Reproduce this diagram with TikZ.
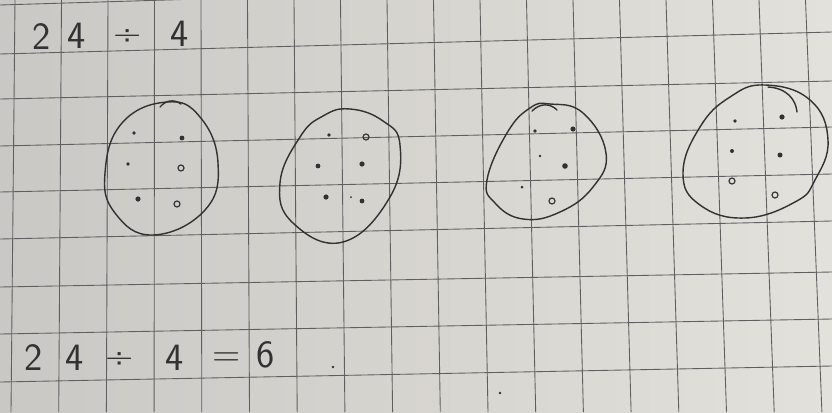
\documentclass[tikz,border=0pt]{standalone}
\usepackage{fontspec}
\usepackage{tikz}
\definecolor{cPaperL}{RGB}{202,200,196}
\definecolor{cPaperR}{RGB}{227,225,219}
\definecolor{cGrid}{RGB}{95,95,95}
\definecolor{cPen}{RGB}{50,50,50}

\begin{document}
\begin{tikzpicture}[
  x=0.03cm, y=-0.03cm,
  rule/.style={draw=cGrid, line width=0.75pt},
  pen/.style={draw=cPen, line width=1.2pt, line cap=round, line join=round},
  ring/.style={draw=cPen, line width=1pt},
  digit/.style={text=cPen, font=\sffamily\fontsize{33}{36}\selectfont, inner sep=0pt},
]
  % paper
  \clip (0,0) rectangle (832,412);
  \shade[left color=cPaperL, right color=cPaperR] (0,0) rectangle (832,412);
  % horizontal rules (left end / right end)
  \foreach \yl/\yr in {5/-20, 54/32, 99/81, 146/127, 192/174, 239/221, 287/272, 334/319, 382/366}
    \draw[rule] (0,\yl) -- (832,\yr);
  % vertical rules
  \foreach \i in {0,...,17}
    \draw[rule] ({15+46.5*\i},0) -- ({11+47.7*\i},412);
  % first line
  \node[digit] (t2)   at (42,37)  {2};
  \node[digit] (t4)   at (77,36)  {4};
  \node[digit] (tdiv) at (128,38) {÷};
  \node[digit] (t4b)  at (180,34) {4};
  % groups
  \draw[pen] plot[smooth cycle, tension=0.75] coordinates
    {(167,102) (200,117) (218,163) (205,210) (153,235) (115,213) (105,173) (122,123)};
  \draw[pen] (160,107) .. controls (166,100) and (174,99) .. (181,104);
  \draw[pen] plot[smooth cycle, tension=0.75] coordinates
    {(350,109) (383,121) (400,145) (390,197) (343,242) (293,223) (280,183) (300,137) (323,116)};
  \draw[pen] plot[smooth cycle, tension=0.75] coordinates
    {(550,104) (583,113) (606,153) (593,187) (560,212) (523,219) (495,203) (487,180) (507,133) (530,108)};
  \draw[pen] (532,111) .. controls (540,103) and (550,103) .. (557,110);
  \draw[pen] plot[smooth cycle, tension=0.75] coordinates
    {(765,85) (810,100) (828,140) (815,180) (795,202) (745,218) (700,205) (683,173) (700,127) (730,97)};
  \draw[pen] (768,87) .. controls (787,88) and (796,100) .. (797,112);
  % counters
  \foreach \x/\y/\r in {134/133/1.9, 182/138/2.4, 128/164/1.9, 138/199/2.6,
                        329/135/1.8, 318/166/2.4, 362/164/2.6, 326/197/2.6, 351/197/1.0, 362/201/2.4,
                        535/131/1.8, 573/129/2.6, 540/156/1.3, 565/166/2.8, 522/187/1.5,
                        735/121/1.9, 782/117/2.6, 732/151/2.0, 780/155/2.5,
                        333/367/1.3, 500/393/1.3}
    \fill[cPen] (\x,\y) circle (\r);
  \foreach \x/\y in {181/168, 177/204, 366/137, 552/201, 732/181, 775/195}
    \draw[ring] (\x,\y) circle (3);
  % answer line
  \node[digit] (b2)   at (34,358)  {2};
  \node[digit] (b4)   at (75,358)  {4};
  \node[digit] (bdiv) at (120,361) {÷};
  \node[digit] (b4b)  at (175,358) {4};
  \node[digit] (beq)  at (227,360) {=};
  \node[digit] (b6)   at (266,355) {6};
\end{tikzpicture}
\end{document}
